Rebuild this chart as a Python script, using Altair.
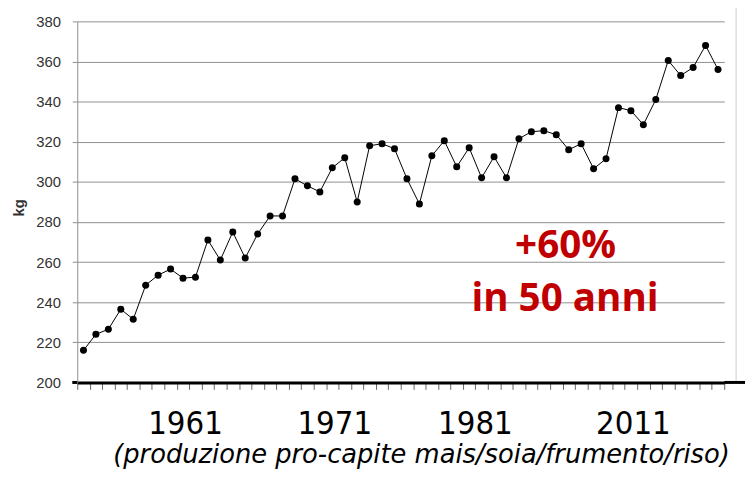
import altair as alt
import pandas as pd

# Data
idx = list(range(1, 53))
kg = [216, 224, 226.5, 236.5, 231.5, 248.5, 253.5, 256.5, 252, 252.5,
      271, 261, 275, 262, 274, 283, 283, 301.5, 298, 295,
      307, 312, 290, 318, 319, 316.5, 301.5, 289, 313, 320.5,
      307.5, 317, 302, 312.5, 302, 321.5, 325, 325.5, 323.5, 316,
      319, 306.5, 311.5, 337, 335.5, 328.5, 341, 360.5, 353, 357,
      368, 356]

year_labels = ["1961", "1971", "1981", "2011"]
year_pos = [9.2, 21.2, 32.5, 45.2]

y_ticks = [200, 220, 240, 260, 280, 300, 320, 340, 360, 380]
x_ticks = [i + 0.5 for i in range(0, 53)]

annot_text = ["+60%", "in 50 anni"]
annot_x = [39.75, 39.7]
annot_y = [262.0, 235.6]

subtitle = "(produzione pro-capite mais/soia/frumento/riso)"

df = pd.DataFrame({"idx": idx, "kg": kg})
xs = alt.Scale(domain=[0.5, 52.5], nice=False, zero=False)
ys = alt.Scale(domain=[200, 380], nice=False, zero=False)

xaxis = alt.Axis(
    values=x_ticks, labels=False, domain=True, domainColor="black",
    domainWidth=3, grid=False, ticks=True, tickSize=7, tickColor="#666666",
    tickWidth=1, tickRound=True, title=None)
yaxis = alt.Axis(
    values=y_ticks, grid=True, gridColor="#8f8f8f", gridWidth=1,
    domainColor="#8f8f8f", tickColor="#8f8f8f", tickSize=5,
    labelFont="Liberation Sans", labelFontSize=15, labelColor="#333333",
    labelPadding=12, title="kg", titleFont="Liberation Sans",
    titleFontSize=15, titleFontWeight="bold", titleColor="#333333",
    titleAngle=270, titleX=-59, titleY=188, titleBaseline="middle",
    titleAlign="center")

X = lambda f: alt.X(f, scale=xs, axis=xaxis, title=None)
Y = lambda f: alt.Y(f, scale=ys, axis=yaxis, title="kg")

base = alt.Chart(df)

line = base.mark_line(color="black", strokeWidth=1).encode(
    x=X("idx:Q"), y=Y("kg:Q"))

pts = base.mark_circle(color="black", size=50, opacity=1).encode(
    x=X("idx:Q"), y=Y("kg:Q"))

# extensions of the thick baseline beyond the plot edges (as in the picture)
ext = alt.Chart(pd.DataFrame({"k": [0]})).mark_rule(
    color="black", strokeWidth=3).encode(
    x=alt.value(654), x2=alt.value(680), y=alt.value(365), y2=alt.value(365))
ext_l = alt.Chart(pd.DataFrame({"k": [0]})).mark_rule(
    color="black", strokeWidth=3).encode(
    x=alt.value(-5), x2=alt.value(0), y=alt.value(365), y2=alt.value(365))

frame = alt.Chart(pd.DataFrame({"k": [0]})).mark_rule(
    color="#cccccc", strokeWidth=1).encode(
    x=alt.value(666), x2=alt.value(666), y=alt.value(-19), y2=alt.value(365))

years = alt.Chart(pd.DataFrame({"idx": year_pos, "label": year_labels})).mark_text(
    font="Liberation Sans Narrow, DejaVu Sans Condensed, sans-serif",
    fontSize=33, baseline="alphabetic", align="center", color="black"
).encode(
    x=X("idx:Q"),
    y=alt.value(417),
    text="label:N",
)

annot = alt.Chart(pd.DataFrame({"t": annot_text, "idx": annot_x, "kg": annot_y})).mark_text(
    font="Open Sans", fontSize=39, fontWeight="bold", color="#c00000",
    baseline="alphabetic", align="center"
).encode(
    x=X("idx:Q"), y=Y("kg:Q"), text="t:N")

sub = alt.Chart(pd.DataFrame({"t": [subtitle]})).mark_text(
    font="DejaVu Sans", fontSize=26, fontStyle="italic", color="black",
    baseline="alphabetic", align="center"
).encode(
    x=alt.value(348), y=alt.value(446), text="t:N"
)

chart = alt.layer(frame, line, pts, ext, ext_l, years, annot, sub).properties(
    width=654, height=365,
    autosize=alt.AutoSizeParams(type="none"),
    padding={"left": 70, "top": 11, "right": 21, "bottom": 87},
).configure_view(stroke=None)

chart.save("out.html", embed_options={"renderer": "svg", "actions": False})
